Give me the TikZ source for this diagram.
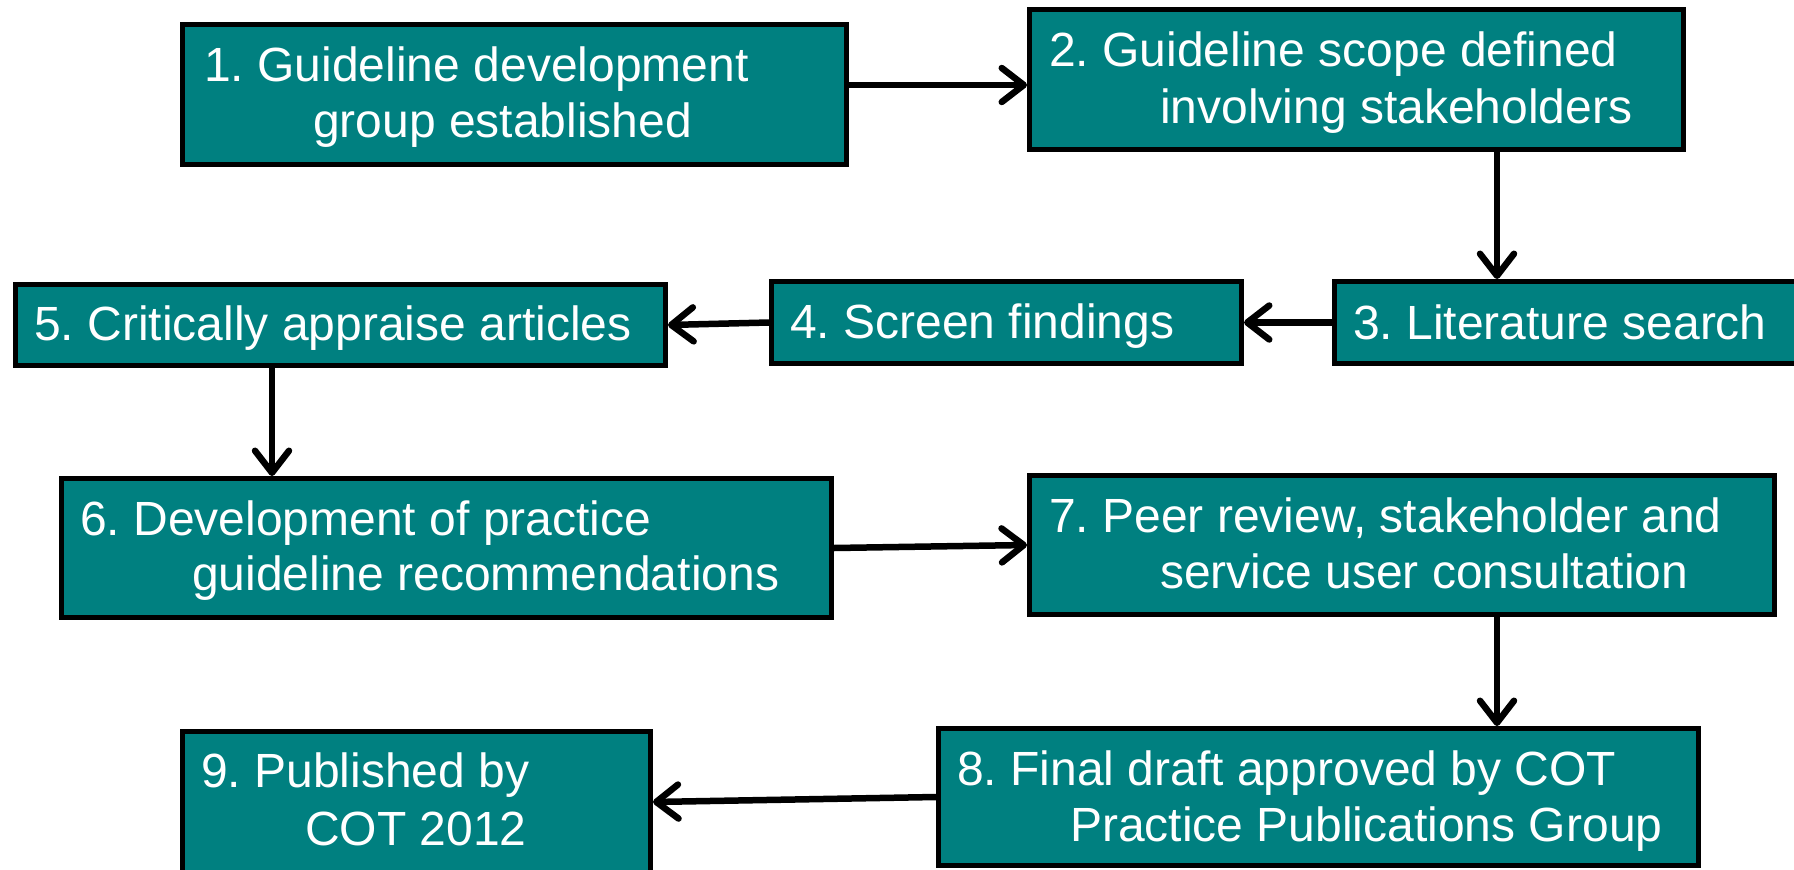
\documentclass[tikz,border=0pt]{standalone}
\usepackage{fontspec}
\setmainfont{Liberation Sans}
\usetikzlibrary{arrows.meta}
\definecolor{teal}{HTML}{008080}
\frenchspacing
\tikzset{
  box/.style={draw=black, fill=teal, line width=5pt, rectangle, inner sep=0pt},
  txt/.style={anchor=base west, inner sep=0pt, text=white, font=\fontsize{48}{56}\selectfont},
  arr/.style={draw=black, line width=6.5pt, line cap=round, -{Straight Barb[length=22pt,width=34pt,round]}}
}
\begin{document}
\begin{tikzpicture}[x=1pt,y=-1pt]
\useasboundingbox (0,0) rectangle (1794,870);
% boxes
\node[box, minimum width=664pt, minimum height=140pt] (b1) at (514.5,94.5) {};
\node[box, minimum width=654pt, minimum height=140pt] (b2) at (1356.5,79.5) {};
\node[box, minimum width=473pt, minimum height=82pt] (b3) at (1571,322.5) {};
\node[box, minimum width=470pt, minimum height=82pt] (b4) at (1006.5,322.5) {};
\node[box, minimum width=650pt, minimum height=81pt] (b5) at (340.5,325) {};
\node[box, minimum width=770pt, minimum height=139pt] (b6) at (446.5,548) {};
\node[box, minimum width=745pt, minimum height=139pt] (b7) at (1402,545) {};
\node[box, minimum width=760pt, minimum height=137pt] (b8) at (1318.5,797) {};
\node[box, minimum width=468pt, minimum height=141pt] (b9) at (416.5,802) {};
% texts
\node[txt] (t1a) at (204,81) {1. Guideline development};
\node[txt] (t1b) at (313,137) {group established};
\node[txt] (t2a) at (1049,66) {2. Guideline scope defined};
\node[txt] (t2b) at (1160,123) {involving stakeholders};
\node[txt] (t3) at (1353,339) {3. Literature search};
\node[txt] (t4) at (790,338) {4. Screen findings};
\node[txt] (t5) at (34,340) {5. Critically appraise articles};
\node[txt] (t6a) at (80,535) {6. Development of practice};
\node[txt] (t6b) at (192,590) {guideline recommendations};
\node[txt] (t7a) at (1049,532) {7. Peer review, stakeholder and};
\node[txt] (t7b) at (1160,588) {service user consultation};
\node[txt] (t8a) at (957,785) {8. Final draft approved by COT};
\node[txt] (t8b) at (1070,841) {Practice Publications Group};
\node[txt] (t9a) at (201,787) {9. Published by};
\node[txt] (t9b) at (305,845) {COT 2012};
% helper coordinates
\coordinate (y12) at (0,85);
\coordinate (xr) at (1497,0);
\coordinate (xl) at (272,0);
% connectors
\draw[arr] (b1.east |- y12) -- (b2.west |- y12);
\draw[arr] (b2.south -| xr) -- (b3.north -| xr);
\draw[arr] (b3.west) -- (b4.east);
\draw[arr] (b4.west) -- (b5.east);
\draw[arr] (b5.south -| xl) -- (b6.north -| xl);
\draw[arr] (b6.east) -- (b7.west);
\draw[arr] (b7.south -| xr) -- (b8.north -| xr);
\draw[arr] (b8.west) -- (b9.east);
\end{tikzpicture}
\end{document}
